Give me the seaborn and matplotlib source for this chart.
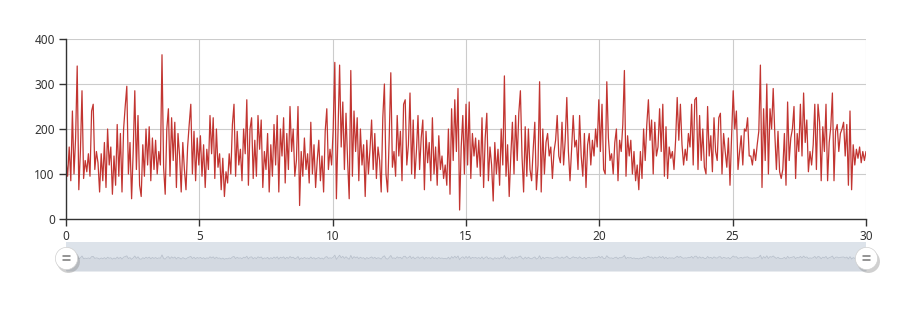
import numpy as np
import pandas as pd
import matplotlib
matplotlib.use("Agg")
import matplotlib.pyplot as plt
import seaborn as sns

# ---- data (501 samples over 0..30) ----
values = [
    130, 95, 160, 85, 240, 100, 180, 340, 65, 150, 285, 90, 130, 105, 145, 95, 240, 255, 110, 150,
    125, 60, 145, 85, 170, 70, 200, 120, 160, 55, 140, 75, 210, 95, 190, 60, 200, 250, 295, 100,
    170, 45, 150, 285, 110, 230, 75, 50, 165, 95, 200, 120, 205, 85, 180, 110, 175, 100, 150, 120,
    365, 115, 55, 200, 245, 95, 225, 130, 215, 70, 190, 140,
    60, 170, 110, 65, 160, 210, 255, 100, 195, 85, 180, 120, 185, 95, 165, 70, 155, 110, 230, 145,
    225, 90, 200, 115, 145, 65, 135, 50, 105, 80, 145, 100, 210, 255, 95, 195, 120, 155, 85, 200,
    145, 265, 75, 200, 225, 90, 175, 95, 230, 155, 220, 70, 150, 110, 190, 60, 165, 95, 210, 120,
    230, 60, 200, 140, 225, 80, 190, 110, 250, 150, 200, 95,
    130, 250, 30, 150, 95, 180, 110, 145, 80, 215, 100, 165, 70, 130, 175, 85, 140, 60, 195, 245,
    110, 155, 120, 200, 348, 45, 190, 342, 160, 260, 110, 235, 130, 45, 330, 95, 240, 150, 225, 85,
    200, 120, 165, 50, 175, 100, 155, 220, 110, 190, 90, 160, 130, 60, 225, 300, 100, 60, 180, 325,
    115, 150, 95, 230, 140, 195, 85, 255, 265, 120,
    165, 280, 100, 220, 90, 150, 230, 110, 180, 220, 65, 195, 125, 170, 85, 225, 100, 160, 75, 185,
    110, 140, 90, 120, 75, 200, 55, 245, 130, 265, 150, 290, 20, 160, 230, 100, 255, 120, 260, 90,
    190, 140, 180, 115, 175, 95, 225, 70, 180, 235, 85, 160, 120, 40, 170, 100, 155, 75, 200, 120,
    318, 95, 165, 50, 140, 215, 100, 230, 130, 235, 285, 140,
    60, 205, 95, 200, 110, 85, 155, 215, 65, 120, 305, 60, 200, 100, 170, 190, 140, 160, 90, 150,
    175, 230, 140, 125, 215, 120, 175, 270, 150, 85, 155, 230, 160, 175, 110, 230, 140, 95, 190, 70,
    165, 190, 120, 175, 140, 200, 160, 265, 150, 255, 110, 100, 305, 180, 130, 145, 100, 170, 200, 85,
    175, 150, 210, 330, 95, 185, 140, 175, 100, 150, 85, 120,
    65, 150, 90, 200, 130, 210, 265, 175, 220, 100, 215, 140, 160, 245, 150, 255, 95, 205, 90, 160,
    135, 150, 110, 175, 270, 175, 255, 165, 120, 155, 130, 190, 160, 255, 120, 265, 270, 110, 230, 130,
    200, 115, 100, 250, 140, 185, 105, 225, 150, 130, 225, 235, 100, 190, 150, 115, 180, 75, 185, 285,
    200, 240, 110, 150, 185, 120, 200, 195, 225, 140,
    140, 120, 155, 130, 165, 195, 342, 70, 245, 130, 300, 100, 245, 200, 290, 190, 110, 195, 105, 90,
    110, 190, 75, 260, 130, 180, 200, 250, 90, 190, 150, 255, 140, 280, 170, 220, 105, 150, 120, 165,
    255, 110, 255, 215, 85, 205, 150, 255, 85, 170, 205, 280, 85, 195, 210, 150, 190, 200, 215, 140,
    210, 75, 240, 65, 165, 120, 155, 135, 160, 125, 150, 130, 150,
]
x_min, x_max = 0, 30
x_ticks = [0, 5, 10, 15, 20, 25, 30]
y_ticks = [0, 100, 200, 300, 400]

df = pd.DataFrame({"x": np.linspace(x_min, x_max, len(values)), "y": values})

W, H = 913, 309
sns.set_theme(style="white")
plt.rcParams["font.family"] = ["Noto Sans", "DejaVu Sans"]

fig = plt.figure(figsize=(W / 100, H / 100), dpi=100)

# main axes: x 66..866, y 39..219 (pixels)
ax = fig.add_axes([66 / W, (H - 219) / H, 800 / W, 180 / H])
sns.lineplot(data=df, x="x", y="y", ax=ax, color="#c23531", linewidth=0.9)
ax.set_xlim(x_min, x_max)
ax.set_ylim(0, 400)
ax.set_xticks(x_ticks)
ax.set_yticks(y_ticks)
ax.set_xticklabels([str(t) for t in x_ticks])
ax.set_yticklabels([str(t) for t in y_ticks])
ax.set_xlabel("")
ax.set_ylabel("")
ax.grid(True, color="#cccccc", linewidth=0.8)
ax.set_axisbelow(True)
for s in ["top", "right"]:
    ax.spines[s].set_visible(False)
for s in ["left", "bottom"]:
    ax.spines[s].set_color("#333333")
    ax.spines[s].set_linewidth(1)
ax.tick_params(axis="both", which="both", length=5, width=1, color="#333333",
               labelcolor="#333333", labelsize=8.5, pad=3,
               left=True, bottom=True)

# data zoom slider: x 66..866, y 242..271
sax = fig.add_axes([66 / W, (H - 271) / H, 800 / W, 29 / H])
sax.set_facecolor("#dde3ea")
sns.lineplot(data=df, x="x", y="y", ax=sax, color="#b9c1cc", linewidth=0.6)
sax.fill_between(df["x"], df["y"], -800, color="#d3d9e1", linewidth=0)
sax.set_xlim(x_min, x_max)
sax.set_ylim(-800, 1300)
sax.set_xticks([])
sax.set_yticks([])
sax.set_xlabel("")
sax.set_ylabel("")
for s in sax.spines.values():
    s.set_visible(False)

# handles
hy = (H - 258) / H
for hx in (66 / W, 866 / W):
    fig.add_artist(plt.Line2D([hx + 2 / W], [hy - 3 / H], marker="o", markersize=16.5,
                              markerfacecolor="#8a8a8a", markeredgecolor="none", alpha=0.4,
                              transform=fig.transFigure))
    fig.add_artist(plt.Line2D([hx], [hy], marker="o", markersize=16,
                              markerfacecolor="white", markeredgecolor="#d0d0d0",
                              markeredgewidth=0.5, transform=fig.transFigure))
    for dy in (-1.6, 1.6):
        fig.add_artist(plt.Line2D([hx - 3.5 / W, hx + 3.5 / W], [hy + dy / H, hy + dy / H],
                                  color="#777777", linewidth=1.1,
                                  transform=fig.transFigure))

fig.savefig("out.png", dpi=100)
